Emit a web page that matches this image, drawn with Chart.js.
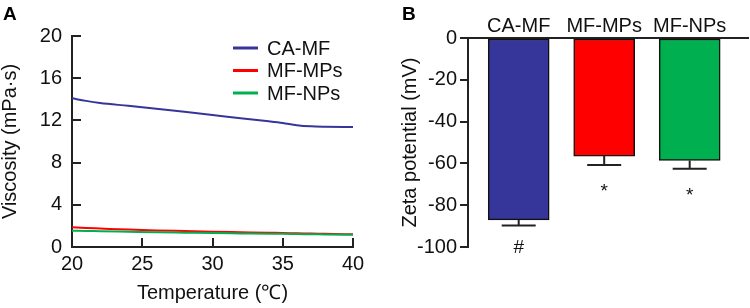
<!DOCTYPE html>
<html>
<head>
<meta charset="utf-8">
<script src="https://cdn.jsdelivr.net/npm/chart.js@4"></script>
<style>
  body { margin: 0; background: #fff; }
  .wrap { display: flex; width: 750px; height: 308px; }
  canvas { display: block; }
</style>
</head>
<body>
<div class="wrap">
  <canvas id="viscChart" width="375" height="308"></canvas>
  <canvas id="zetaChart" width="375" height="308"></canvas>
</div>
<script>
// Panel A - viscosity vs temperature
const temps = [20, 21, 22, 24, 26, 28, 30, 32, 34, 35, 36, 37, 38, 40];
const viscCAMF = [14.1, 13.85, 13.65, 13.38, 13.1, 12.82, 12.52, 12.2, 11.92, 11.76, 11.55, 11.44, 11.4, 11.37];
const viscMPs = [1.87, 1.8, 1.75, 1.65, 1.57, 1.51, 1.45, 1.4, 1.35, 1.33, 1.3, 1.28, 1.25, 1.2];
const viscNPs = [1.55, 1.52, 1.5, 1.45, 1.4, 1.36, 1.32, 1.29, 1.26, 1.25, 1.23, 1.21, 1.19, 1.15];
const seriesNames = ['CA-MF', 'MF-MPs', 'MF-NPs'];
const seriesColors = ['#35359a', '#ff0000', '#00b050'];

// Panel B - zeta potential
const zetaLabels = ['CA-MF', 'MF-MPs', 'MF-NPs'];
const zetaMeans = [-87.0, -56.5, -58.6];
const zetaErrors = [2.7, 4.3, 4.0];
const zetaMarks = ['#', '*', '*'];

const FONT = '"Liberation Sans", Arial, Helvetica, sans-serif';
Chart.defaults.font.family = FONT;
Chart.defaults.color = '#111';

const panelLetter = {
    id: 'panelLetter',
    afterDraw(chart, args, opts) {
        const ctx = chart.ctx;
        ctx.save();
        ctx.font = 'bold 19px ' + FONT;
        ctx.fillStyle = '#000';
        ctx.textBaseline = 'alphabetic';
        ctx.fillText(opts.text, opts.x, opts.y);
        ctx.restore();
    }
};

// ticks of panel A point into the plot
const inwardTicks = {
    id: 'inwardTicks',
    afterDraw(chart) {
        const ctx = chart.ctx;
        const area = chart.chartArea;
        const xs = chart.scales.x, ys = chart.scales.y;
        ctx.save();
        ctx.strokeStyle = '#222';
        ctx.lineWidth = 2;
        ctx.beginPath();
        xs.ticks.forEach(t => {
            const px = Math.round(xs.getPixelForValue(t.value));
            if (px <= area.left + 1) return;
            ctx.moveTo(px, area.bottom);
            ctx.lineTo(px, area.bottom - 9);
        });
        ys.ticks.forEach(t => {
            const py = Math.round(ys.getPixelForValue(t.value));
            if (py >= area.bottom - 1) return;
            ctx.moveTo(area.left, py);
            ctx.lineTo(area.left + 9, py);
        });
        ctx.stroke();
        ctx.restore();
    }
};

const lineLegend = {
    id: 'lineLegend',
    afterDraw(chart, args, opts) {
        const ctx = chart.ctx;
        ctx.save();
        ctx.font = '20px ' + FONT;
        ctx.textBaseline = 'middle';
        chart.data.datasets.forEach((ds, i) => {
            const y = opts.top + i * opts.gap;
            ctx.strokeStyle = ds.borderColor;
            ctx.lineWidth = 3;
            ctx.beginPath();
            ctx.moveTo(opts.x, y);
            ctx.lineTo(opts.x + 25, y);
            ctx.stroke();
            ctx.fillStyle = '#111';
            ctx.fillText(ds.label, opts.x + 34, y + 1);
        });
        ctx.restore();
    }
};

const errorBars = {
    id: 'errorBars',
    afterDatasetsDraw(chart) {
        const ctx = chart.ctx;
        const ys = chart.scales.y;
        const meta = chart.getDatasetMeta(0);
        ctx.save();
        ctx.strokeStyle = '#222';
        ctx.lineWidth = 2;
        ctx.font = '19px ' + FONT;
        ctx.textAlign = 'center';
        ctx.textBaseline = 'alphabetic';
        ctx.fillStyle = '#111';
        meta.data.forEach((bar, i) => {
            const top = ys.getPixelForValue(zetaMeans[i]);
            const end = ys.getPixelForValue(zetaMeans[i] - zetaErrors[i]);
            ctx.beginPath();
            ctx.moveTo(bar.x, top);
            ctx.lineTo(bar.x, end);
            ctx.moveTo(bar.x - 17, end);
            ctx.lineTo(bar.x + 17, end);
            ctx.stroke();
            const off = zetaMarks[i] === '*' ? 32 : 28;
            ctx.fillText(zetaMarks[i], bar.x, end + off);
        });
        ctx.restore();
    }
};

new Chart(document.getElementById('viscChart'), {
    type: 'line',
    data: {
        datasets: [viscCAMF, viscMPs, viscNPs].map((vals, i) => ({
            label: seriesNames[i],
            data: temps.map((t, k) => ({ x: t, y: vals[k] })),
            borderColor: seriesColors[i],
            backgroundColor: seriesColors[i],
            borderWidth: 2,
            pointRadius: 0,
            cubicInterpolationMode: 'monotone',
            order: 2 - i
        }))
    },
    options: {
        responsive: false,
        animation: false,
        layout: { padding: { left: 0, right: 22, top: 36, bottom: 0 } },
        plugins: {
            legend: { display: false },
            tooltip: { enabled: false },
            panelLetter: { text: 'A', x: 3, y: 20 },
            lineLegend: { x: 233, top: 48, gap: 22.5 }
        },
        scales: {
            x: {
                type: 'linear',
                min: 20, max: 40,
                afterFit: s => { s.height = 61; },
                ticks: { stepSize: 5, padding: 5, font: { size: 20 }, color: '#111', maxRotation: 0 },
                grid: { display: false, drawTicks: false },
                border: { color: '#222', width: 2 },
                title: { display: true, text: 'Temperature (℃)', font: { size: 20, lineHeight: 1 }, color: '#111', padding: { top: 0, bottom: 5 } }
            },
            y: {
                min: 0, max: 20,
                afterFit: s => { s.width = 72; },
                ticks: { stepSize: 4, padding: 10, font: { size: 20 }, color: '#111' },
                grid: { display: false, drawTicks: false },
                border: { color: '#222', width: 2 },
                title: { display: true, text: 'Viscosity (mPa·s)', font: { size: 20, lineHeight: 1 }, color: '#111', padding: { top: 0, bottom: 0 } }
            }
        }
    },
    plugins: [inwardTicks, lineLegend, panelLetter]
});

new Chart(document.getElementById('zetaChart'), {
    type: 'bar',
    data: {
        datasets: [{
            data: zetaMeans.map((v, i) => ({ x: i + 1, y: v })),
            backgroundColor: seriesColors,
            borderColor: '#111',
            borderWidth: 1.5,
            borderSkipped: false,
            barThickness: 61
        }]
    },
    options: {
        responsive: false,
        animation: false,
        layout: { padding: { left: 0, right: 2, top: 0, bottom: 61 } },
        plugins: {
            legend: { display: false },
            tooltip: { enabled: false },
            panelLetter: { text: 'B', x: 27, y: 20 }
        },
        scales: {
            x: {
                type: 'linear',
                position: 'top',
                offset: false,
                min: 0.407, max: 3.682,
                afterFit: s => { s.height = 38; },
                afterBuildTicks: s => { s.ticks = zetaLabels.map((l, i) => ({ value: i + 1 })); },
                ticks: { padding: 0, font: { size: 20 }, color: '#111', maxRotation: 0, callback: v => zetaLabels[v - 1] },
                grid: { display: false, drawTicks: false },
                border: { color: '#222', width: 2 }
            },
            y: {
                min: -100, max: 0,
                afterFit: s => { s.width = 93; },
                ticks: { stepSize: 20, padding: 3, font: { size: 20 }, color: '#111' },
                grid: { drawOnChartArea: false, drawTicks: true, tickLength: 8, color: '#222', lineWidth: 2 },
                border: { color: '#222', width: 2 },
                title: { display: true, text: 'Zeta potential (mV)', font: { size: 20, lineHeight: 1 }, color: '#111', padding: { top: 25, bottom: 0 } }
            }
        }
    },
    plugins: [errorBars, panelLetter]
});
</script>
</body>
</html>
